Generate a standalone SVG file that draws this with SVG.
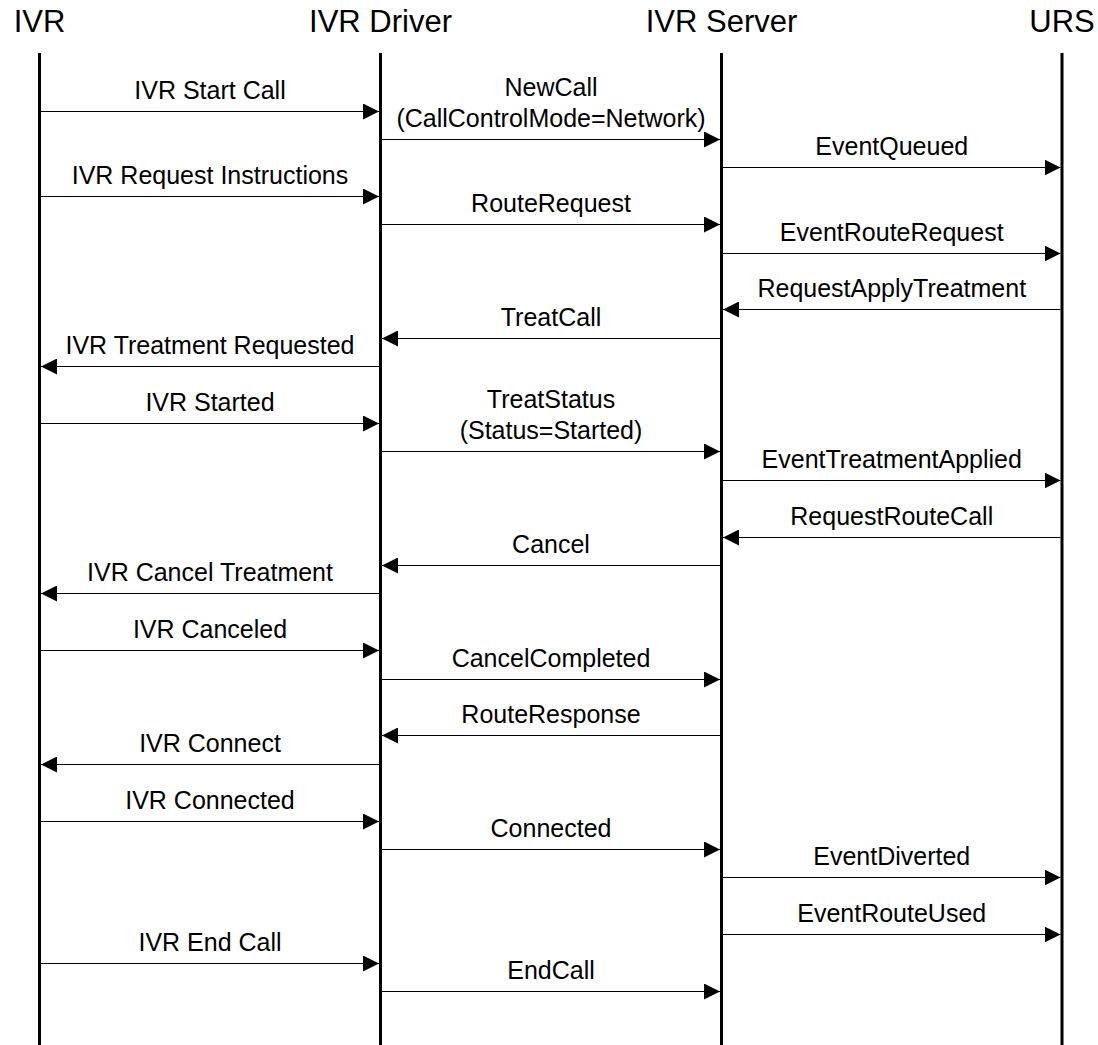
<svg xmlns="http://www.w3.org/2000/svg" width="1098" height="1045" viewBox="0 0 1098 1045">
<style>
.title{font-family:"Liberation Sans",Arial,sans-serif;font-size:31px;fill:#000;text-anchor:middle}
.lbl{font-family:"Liberation Sans",Arial,sans-serif;font-size:25px;fill:#000;text-anchor:middle}
.life{stroke:#000;stroke-width:3;fill:none}
.msg{stroke:#000;stroke-width:1;fill:none;marker-end:url(#ah)}
</style>
<defs>
<marker id="ah" markerUnits="userSpaceOnUse" markerWidth="16" markerHeight="16" viewBox="0 0 16 16" refX="16" refY="8" orient="auto">
<path d="M0,0 L16,8 L0,16 Z" fill="#000"/>
</marker>
</defs>
<rect width="1098" height="1045" fill="#fff"/>
<g id="ivr">
<text class="title" x="39.5" y="32">IVR</text>
<line class="life" x1="39.5" y1="53" x2="39.5" y2="1045"/>
</g>
<g id="ivr-driver">
<text class="title" x="380.5" y="32">IVR Driver</text>
<line class="life" x1="380.5" y1="53" x2="380.5" y2="1045"/>
</g>
<g id="ivr-server">
<text class="title" x="721.5" y="32">IVR Server</text>
<line class="life" x1="721.5" y1="53" x2="721.5" y2="1045"/>
</g>
<g id="urs">
<text class="title" x="1062" y="32">URS</text>
<line class="life" x1="1062" y1="53" x2="1062" y2="1045"/>
</g>
<g id="connectors">
<line class="msg" x1="41" y1="111.5" x2="379" y2="111.5"/>
<text class="lbl" x="210" y="99">IVR Start Call</text>

<line class="msg" x1="382" y1="139.5" x2="720" y2="139.5"/>
<text class="lbl" x="551" y="95.5">NewCall</text>
<text class="lbl" x="551" y="126.5">(CallControlMode=Network)</text>

<line class="msg" x1="723" y1="167.5" x2="1060.5" y2="167.5"/>
<text class="lbl" x="891.75" y="155">EventQueued</text>

<line class="msg" x1="41" y1="196.5" x2="379" y2="196.5"/>
<text class="lbl" x="210" y="184">IVR Request Instructions</text>

<line class="msg" x1="382" y1="224.5" x2="720" y2="224.5"/>
<text class="lbl" x="551" y="212">RouteRequest</text>

<line class="msg" x1="723" y1="253.5" x2="1060.5" y2="253.5"/>
<text class="lbl" x="891.75" y="241">EventRouteRequest</text>

<line class="msg" x1="1060.5" y1="309.5" x2="723" y2="309.5"/>
<text class="lbl" x="891.75" y="297">RequestApplyTreatment</text>

<line class="msg" x1="720" y1="338.5" x2="382" y2="338.5"/>
<text class="lbl" x="551" y="326">TreatCall</text>

<line class="msg" x1="379" y1="366.5" x2="41" y2="366.5"/>
<text class="lbl" x="210" y="354">IVR Treatment Requested</text>

<line class="msg" x1="41" y1="423.5" x2="379" y2="423.5"/>
<text class="lbl" x="210" y="411">IVR Started</text>

<line class="msg" x1="382" y1="451.5" x2="720" y2="451.5"/>
<text class="lbl" x="551" y="407.5">TreatStatus</text>
<text class="lbl" x="551" y="438.5">(Status=Started)</text>

<line class="msg" x1="723" y1="480.5" x2="1060.5" y2="480.5"/>
<text class="lbl" x="891.75" y="468">EventTreatmentApplied</text>

<line class="msg" x1="1060.5" y1="537.5" x2="723" y2="537.5"/>
<text class="lbl" x="891.75" y="525">RequestRouteCall</text>

<line class="msg" x1="720" y1="565.5" x2="382" y2="565.5"/>
<text class="lbl" x="551" y="553">Cancel</text>

<line class="msg" x1="379" y1="593.5" x2="41" y2="593.5"/>
<text class="lbl" x="210" y="581">IVR Cancel Treatment</text>

<line class="msg" x1="41" y1="650.5" x2="379" y2="650.5"/>
<text class="lbl" x="210" y="638">IVR Canceled</text>

<line class="msg" x1="382" y1="679.5" x2="720" y2="679.5"/>
<text class="lbl" x="551" y="667">CancelCompleted</text>

<line class="msg" x1="720" y1="735.5" x2="382" y2="735.5"/>
<text class="lbl" x="551" y="723">RouteResponse</text>

<line class="msg" x1="379" y1="764.5" x2="41" y2="764.5"/>
<text class="lbl" x="210" y="752">IVR Connect</text>

<line class="msg" x1="41" y1="821.5" x2="379" y2="821.5"/>
<text class="lbl" x="210" y="809">IVR Connected</text>

<line class="msg" x1="382" y1="849.5" x2="720" y2="849.5"/>
<text class="lbl" x="551" y="837">Connected</text>

<line class="msg" x1="723" y1="877.5" x2="1060.5" y2="877.5"/>
<text class="lbl" x="891.75" y="865">EventDiverted</text>

<line class="msg" x1="723" y1="934.5" x2="1060.5" y2="934.5"/>
<text class="lbl" x="891.75" y="922">EventRouteUsed</text>

<line class="msg" x1="41" y1="963.5" x2="379" y2="963.5"/>
<text class="lbl" x="210" y="951">IVR End Call</text>

<line class="msg" x1="382" y1="991.5" x2="720" y2="991.5"/>
<text class="lbl" x="551" y="979">EndCall</text>
</g>
</svg>
